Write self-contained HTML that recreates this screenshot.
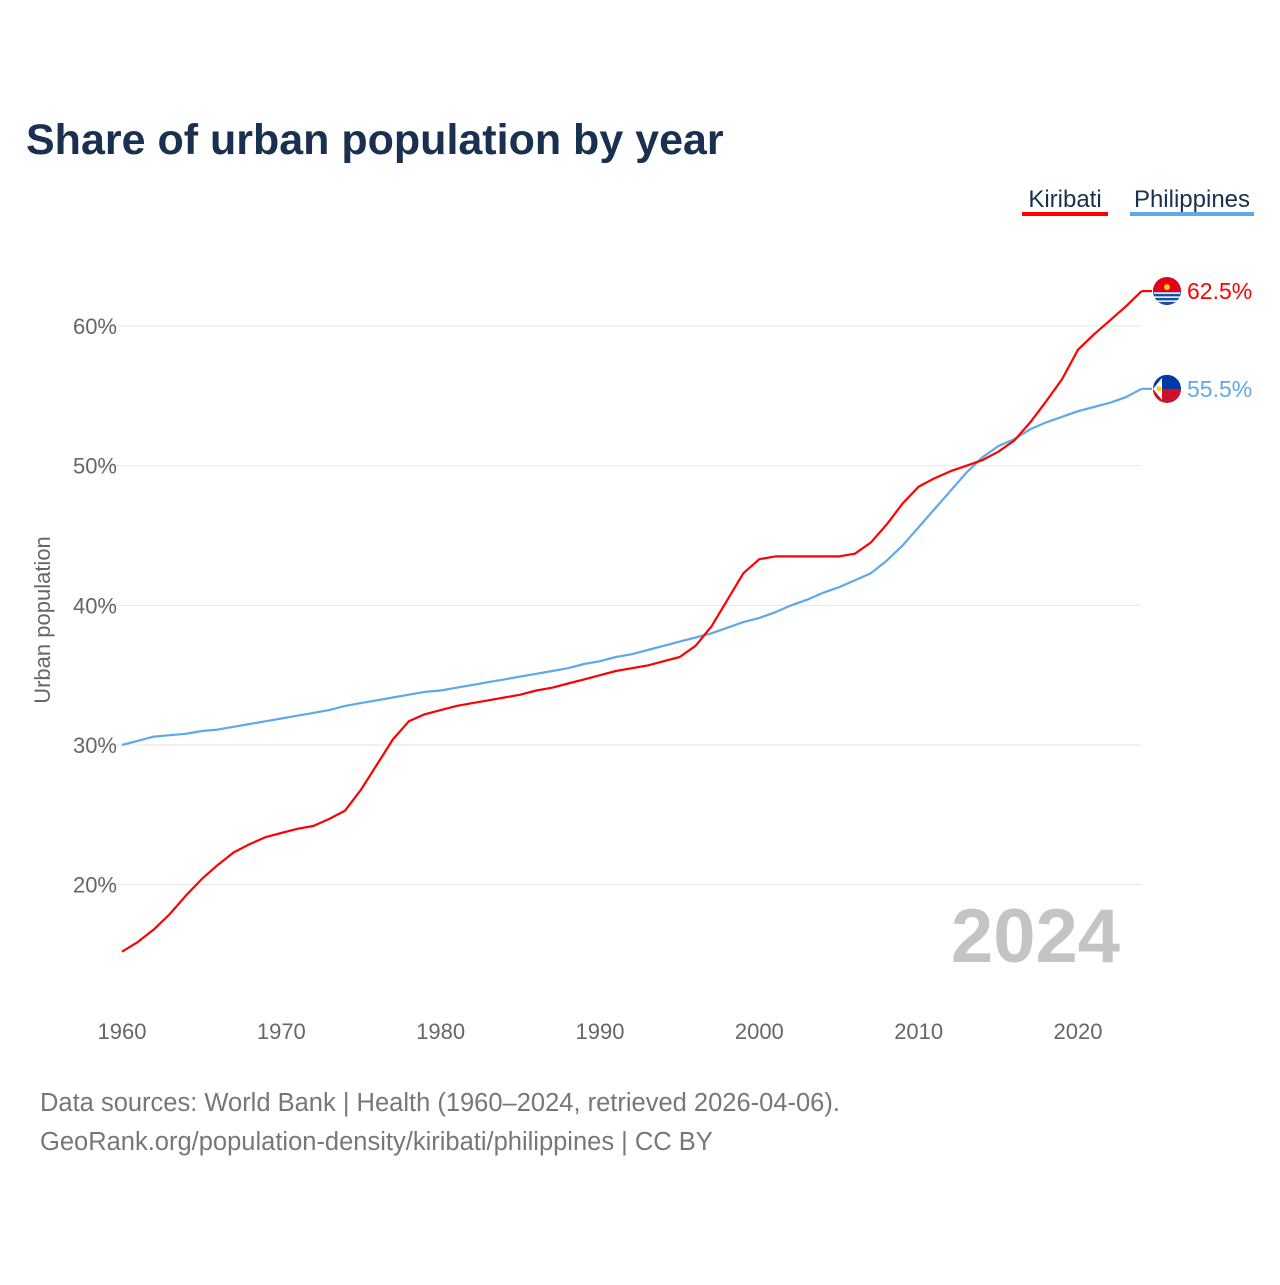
<!DOCTYPE html>
<html><head><meta charset="utf-8">
<style>
body{margin:0;background:#fff;font-family:"Liberation Sans",sans-serif;}
svg text{font-family:"Liberation Sans",sans-serif;}
</style></head>
<body>
<svg id="chart" width="1280" height="1280" viewBox="0 0 1280 1280">
<rect width="1280" height="1280" fill="#fff"/>
<text x="26" y="154" font-size="43" font-weight="bold" fill="#1a3050">Share of urban population by year</text>
<g>
<text x="1065" y="207" font-size="24" fill="#1a3050" text-anchor="middle">Kiribati</text>
<rect x="1022" y="212" width="86" height="4" fill="#ff0000"/>
<text x="1192" y="207" font-size="24" fill="#1a3050" text-anchor="middle">Philippines</text>
<rect x="1130" y="212" width="124" height="4" fill="#5fa8ea"/>
</g>
<g id="grid"></g>
<g id="yticks"></g>
<g id="xticks"></g>
<text transform="translate(50,620) rotate(-90)" font-size="22" fill="#666" text-anchor="middle">Urban population</text>
<text x="1120" y="962" font-size="76" font-weight="bold" fill="#c4c4c4" text-anchor="end">2024</text>
<g id="series"></g>
<text x="40" y="1111" font-size="25.5" fill="#777">Data sources: World Bank | Health (1960–2024, retrieved 2026-04-06).</text>
<text x="40" y="1150" font-size="25.5" fill="#777">GeoRank.org/population-density/kiribati/philippines | CC BY</text>
</svg>
<script>
const years = [];
for (let y = 1960; y <= 2024; y++) years.push(y);
const kiribati = [15.2,15.9,16.8,17.9,19.2,20.4,21.4,22.3,22.9,23.4,23.7,24.0,24.2,24.7,25.3,26.8,28.6,30.4,31.7,32.2,32.5,32.8,33.0,33.2,33.4,33.6,33.9,34.1,34.4,34.7,35.0,35.3,35.5,35.7,36.0,36.3,37.1,38.5,40.4,42.3,43.3,43.5,43.5,43.5,43.5,43.5,43.7,44.5,45.8,47.3,48.5,49.1,49.6,50.0,50.4,51.0,51.8,53.1,54.6,56.2,58.3,59.4,60.4,61.4,62.5];
const philippines = [30.0,30.3,30.6,30.7,30.8,31.0,31.1,31.3,31.5,31.7,31.9,32.1,32.3,32.5,32.8,33.0,33.2,33.4,33.6,33.8,33.9,34.1,34.3,34.5,34.7,34.9,35.1,35.3,35.5,35.8,36.0,36.3,36.5,36.8,37.1,37.4,37.7,38.0,38.4,38.8,39.1,39.5,40.0,40.4,40.9,41.3,41.8,42.3,43.2,44.3,45.6,46.9,48.2,49.5,50.6,51.4,51.9,52.6,53.1,53.5,53.9,54.2,54.5,54.9,55.5];
const yTicks = [20,30,40,50,60];
const xTicks = [1960,1970,1980,1990,2000,2010,2020];
const NS = "http://www.w3.org/2000/svg";
const xS = y => 122 + (y - 1960) * (956 / 60);
const yS = v => 745 - (v - 30) * 13.967;
function mk(tag, attrs, parent) { const e = document.createElementNS(NS, tag); for (const k in attrs) e.setAttribute(k, attrs[k]); parent.appendChild(e); return e; }
const grid = document.getElementById('grid'), yt = document.getElementById('yticks'), xt = document.getElementById('xticks'), ser = document.getElementById('series');
yTicks.forEach(v => {
  const l = mk('line', {x1:100, x2:1141, y1:yS(v), y2:yS(v), stroke:'#e6e6e6', 'stroke-width':1}, grid);
  
  
  const t = mk('text', {x:117, y:yS(v)+8, 'font-size':22, fill:'#666', 'text-anchor':'end'}, yt);
  t.textContent = v + '%';
  
  
});
xTicks.forEach(v => {
  const t = mk('text', {x:xS(v), y:1039, 'font-size':22, fill:'#666', 'text-anchor':'middle'}, xt);
  t.textContent = v;
  
  
});
function line(vals, color, name, flag) {
  const d = vals.map((v,i) => (i ? 'L' : 'M') + xS(years[i]).toFixed(1) + ',' + yS(v).toFixed(1)).join('');
  const p = mk('path', {d:d, fill:'none', stroke:color, 'stroke-width':2.2, 'stroke-linejoin':'round'}, ser);
  
  
  const lv = vals[vals.length-1], ly = yS(lv);
  mk('line', {x1:xS(2024), x2:1152, y1:ly, y2:ly, stroke:color, 'stroke-width':2.2}, ser);
  const g = mk('g', {}, ser);
  
  
  if (flag === 'ki') {
    mk('circle', {cx:1167, cy:ly, r:14, fill:'#1a4fa0'}, g);
    mk('path', {d:`M1153,${ly} A14,14 0 0 1 1181,${ly} Z`, fill:'#e3001b'}, g);
    mk('circle', {cx:1167, cy:ly-4, r:3, fill:'#f7c600'}, g);
    [2,6,10].forEach(o => mk('line', {x1:1154, x2:1180, y1:ly+o, y2:ly+o, stroke:'#fff', 'stroke-width':1.5}, g));
  } else {
    mk('circle', {cx:1167, cy:ly, r:14, fill:'#0038a8'}, g);
    mk('path', {d:`M1153,${ly} A14,14 0 0 0 1181,${ly} Z`, fill:'#ce1126'}, g);
    mk('path', {d:`M1153,${ly} L1162,${ly-11} L1162,${ly+11} Z`, fill:'#fff'}, g);
    mk('circle', {cx:1159, cy:ly, r:2.5, fill:'#fcd116'}, g);
  }
  const t = mk('text', {x:1187, y:ly+8, 'font-size':23, fill:color}, ser);
  t.textContent = lv.toFixed(1) + '%';
  
  
}
line(philippines, '#5fa8ea', 'philippines', 'ph');
line(kiribati, '#ff0000', 'kiribati', 'ki');
</script>
</body></html>
